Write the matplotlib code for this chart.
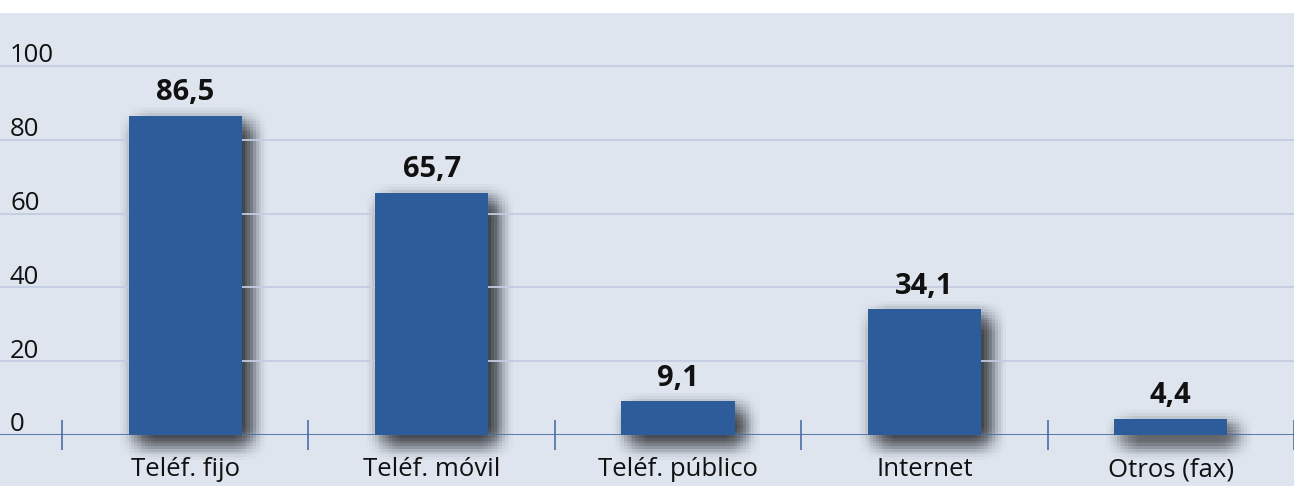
import numpy as np
import matplotlib.pyplot as plt
import matplotlib.patheffects as pe
from matplotlib.transforms import blended_transform_factory

categories = ['Teléf. fijo', 'Teléf. móvil', 'Teléf. público', 'Internet', 'Otros (fax)']
values = [86.5, 65.7, 9.1, 34.1, 4.4]
value_labels = ['86,5', '65,7', '9,1', '34,1', '4,4']
yticks = [0, 20, 40, 60, 80, 100]

bg = '#dfe5ef'
barColor = '#2d5c9a'
lineColor = '#4b6fa6'
gridColor = '#c3cde0'

plt.rcParams['font.family'] = ['Open Sans', 'DejaVu Sans']

fig = plt.figure(figsize=(12.94, 4.86), dpi=100, facecolor=bg)
# thin white strip on top
fig.patches.append(plt.Rectangle((0, (486 - 13) / 486), 1, 13 / 486, transform=fig.transFigure,
                                 facecolor='white', edgecolor='none', zorder=-1))

ax = fig.add_axes([0, (486 - 435) / 486, 1, (435 - 13) / 486])
ax.set_facecolor('none')
ax.set_xlim(-0.5 - 62 / 246.5, 4.5)
ax.set_ylim(0, (435 - 13) / 3.69)

for s in ax.spines.values():
    s.set_visible(False)

# gridlines
for t in yticks[1:]:
    ax.axhline(t, color=gridColor, lw=1.3, zorder=1)
ax.axhline(0, color=lineColor, lw=1.3, zorder=2)

x = np.arange(len(categories))

# soft drop shadow: many faint offset copies, gaussian weighted (a poor man's blur)
sigma = 7.0
shadows = []
for dx in np.arange(-16, 16.1, 2):
    for dy in np.arange(-16, 16.1, 2):
        w = np.exp(-(dx**2 + dy**2) / (2 * sigma**2))
        shadows.append(pe.SimplePatchShadow(offset=(6 + dx, -6 + dy), shadow_rgbFace='black',
                                            alpha=0.014 * w))
shade = ax.bar(x, values, width=0.46, color='black', zorder=0.5)
for b in shade:
    b.set_clip_on(False)
    b.set_path_effects(shadows)

bars = ax.bar(x, values, width=0.46, color=barColor, zorder=3)

for xi, v, lab in zip(x, values, value_labels):
    ax.annotate(lab, (xi, v), xytext=(0, 6), textcoords='offset points',
                ha='center', va='bottom', fontsize=21, fontweight='bold', color='#111111', zorder=5)

# category separators
ax.set_xticks(np.arange(-0.5, 5, 1), minor=True)
ax.tick_params(axis='x', which='minor', direction='inout', length=21, width=1.2, color=lineColor)
ax.set_xticks(x)
ax.set_xticklabels(categories, fontsize=18.5, color='#111111')
ax.tick_params(axis='x', which='major', length=0, pad=16)

ax.set_yticks([])
trans = blended_transform_factory(ax.transAxes, ax.transData)
for t in yticks:
    ax.text(10 / 1294, t + 1, str(t), transform=trans, ha='left', va='baseline',
            fontsize=18.5, color='#111111')

fig.savefig('out.png', dpi=100, facecolor=fig.get_facecolor())
